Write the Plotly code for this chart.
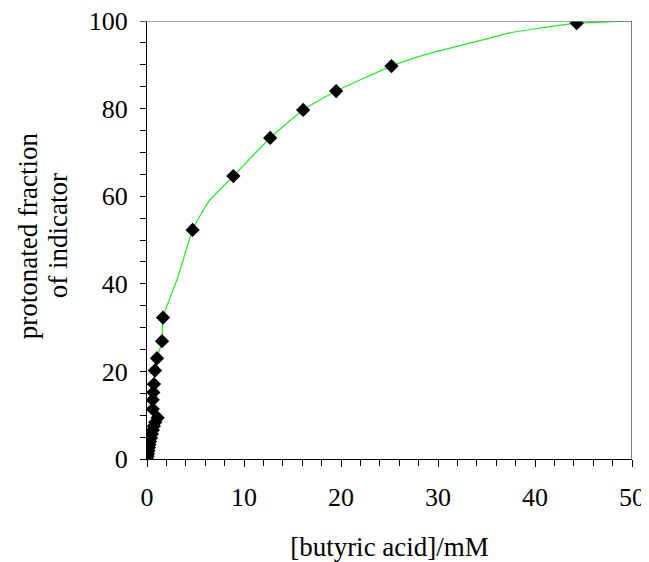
import plotly.graph_objects as go

# data
acid_mM = [0.0, 0.05, 0.1, 0.15, 0.2, 0.25, 0.3, 0.4, 0.5, 0.6, 0.7, 0.85, 1.1,
           0.59, 0.59, 0.65, 0.72, 0.82, 1.03, 1.55, 1.65,
           4.7, 8.9, 12.7, 16.1, 19.5, 25.2, 44.3]
protonated = [0.0, 0.6, 1.2, 1.9, 2.6, 3.3, 4.0, 4.8, 5.7, 6.6, 7.5, 8.4, 9.4,
              11.4, 13.5, 15.2, 17.1, 20.2, 23.0, 26.9, 32.3,
              52.3, 64.6, 73.3, 79.7, 84.0, 89.7, 99.5]
y_title_lines = ["protonated fraction", "of indicator"]

# green curve (follows the points, then the plateau)
curve_x = [0.0, 0.3, 0.6, 0.85, 1.1, 0.59, 0.59, 0.65, 0.72, 0.82, 1.03, 1.55, 1.65,
           3.2, 4.7, 6.3, 8.9, 12.7, 16.1, 19.5, 25.2, 28.5, 34.8, 37.4, 40.3,
           44.3, 47.5, 50.0]
curve_y = [0.0, 4.0, 6.6, 8.4, 9.4, 11.4, 13.5, 15.2, 17.1, 20.2, 23.0, 26.9, 32.3,
           41.6, 52.3, 58.6, 64.6, 73.3, 79.7, 84.0, 89.7, 92.2, 95.8, 97.3, 98.3,
           99.5, 99.8, 100.0]

font = "Liberation Serif, Times New Roman, serif"

fig = go.Figure()
fig.add_trace(go.Scatter(
    x=curve_x, y=curve_y, mode="lines",
    line=dict(color="#22ee22", width=1.2, shape="spline", smoothing=0.5),
    hoverinfo="skip", showlegend=False,
))
fig.add_trace(go.Scatter(
    x=acid_mM, y=protonated, mode="markers",
    marker=dict(symbol="diamond", size=11, color="black"),
    showlegend=False,
))

# gray line along the top (at 100) and black right border
fig.add_shape(type="line", xref="paper", yref="y", x0=-0.014, x1=1, y0=100, y1=100,
              line=dict(color="#808080", width=1.5))
fig.add_shape(type="line", xref="x", yref="paper", x0=50, x1=50, y0=0, y1=1,
              line=dict(color="black", width=1))

# y title as two rotated lines (tighter line spacing than a <br> title)
for xpos, txt in zip([-0.245, -0.183], y_title_lines):
    fig.add_annotation(text=txt, xref="paper", yref="paper", x=xpos, y=0.509,
                       xanchor="center", yanchor="middle", textangle=-90,
                       showarrow=False, font=dict(size=27))

# page body adds an 8px offset, so the figure is sized to fit what is left
fig.update_layout(
    width=641, height=554,
    margin=dict(l=139, r=17, t=13, b=103),
    paper_bgcolor="white", plot_bgcolor="white",
    font=dict(family=font, size=26, color="black"),
    xaxis=dict(
        range=[0, 50], dtick=10, showgrid=False, zeroline=False, automargin=False,
        showline=True, linecolor="black", linewidth=1,
        ticks="outside", ticklen=7, tickcolor="black", ticklabelstandoff=8,
        ticklabeloverflow="allow",
        minor=dict(dtick=2, ticks="outside", ticklen=6, tickcolor="black"),
        title=dict(text="[butyric acid]/mM", font=dict(size=27), standoff=26),
    ),
    yaxis=dict(
        range=[0, 100], dtick=20, showgrid=False, zeroline=False, automargin=False,
        showline=True, linecolor="black", linewidth=1,
        ticks="outside", ticklen=6, tickcolor="black", ticklabelstandoff=7,
        ticklabeloverflow="allow",
        minor=dict(dtick=5, ticks="outside", ticklen=6, tickcolor="black"),
    ),
)

fig.write_html("out.html")
